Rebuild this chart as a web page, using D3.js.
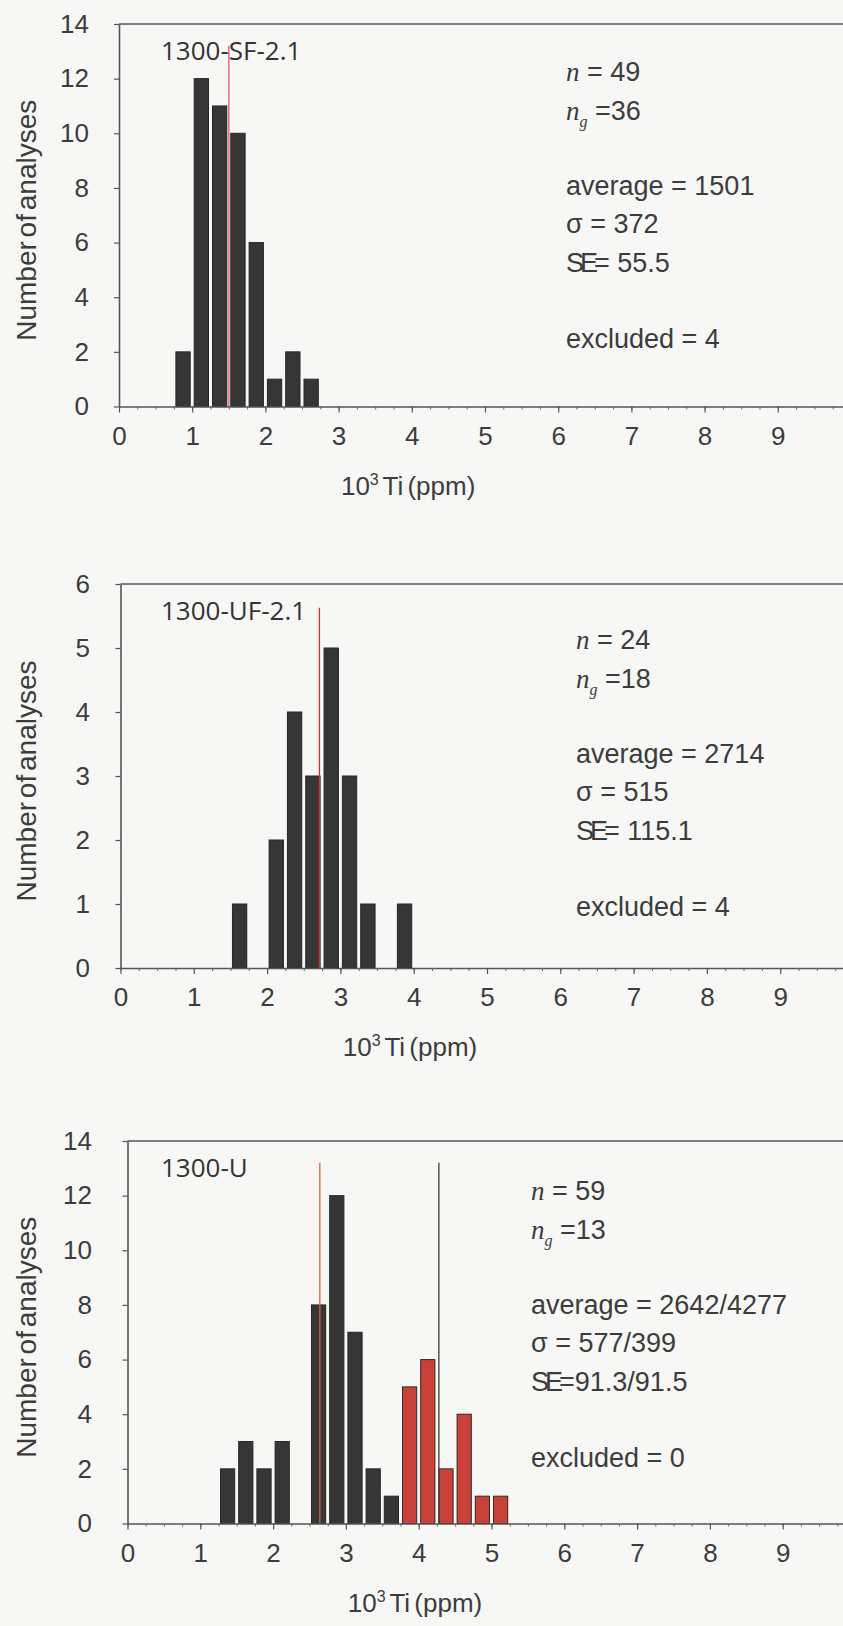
<!DOCTYPE html>
<html>
<head>
<meta charset="utf-8">
<script src="https://cdn.jsdelivr.net/npm/d3@7/dist/d3.min.js"></script>
<style>
  body { margin: 0; background: #f7f7f5; }
  svg { display: block; }
</style>
</head>
<body>
<svg id="chart" width="843" height="1626"></svg>
<script>
// histogram bins: left edge of each 0.25 bin (10^3 ppm) and count
const sf_bins = [0.75, 1.0, 1.25, 1.5, 1.75, 2.0, 2.25, 2.5]
const sf_counts = [2, 12, 11, 10, 6, 1, 2, 1]

const uf_bins = [1.5, 2.0, 2.25, 2.5, 2.75, 3.0, 3.25, 3.75]
const uf_counts = [1, 2, 4, 3, 5, 3, 1, 1]

const u_bins_low = [1.25, 1.5, 1.75, 2.0, 2.5, 2.75, 3.0, 3.25, 3.5]
const u_counts_low = [2, 3, 2, 3, 8, 12, 7, 2, 1]
const u_bins_high = [3.75, 4.0, 4.25, 4.5, 4.75, 5.0]
const u_counts_high = [5, 6, 2, 4, 1, 1]

const bin_width = 0.25
const x_ticks = [0, 1, 2, 3, 4, 5, 6, 7, 8, 9]
const x_minor = d3.range(0, 10.01, 0.25)

// averages in 10^3 ppm (the vertical lines)
const sf_avg = [1.501]
const uf_avg = [2.714]
const u_avg = [2.642, 4.277]

const sf_stats = ["49", "36", "1501", "372", "55.5", "4"]
const uf_stats = ["24", "18", "2714", "515", "115.1", "4"]
const u_stats = ["59", "13", "2642/4277", "577/399", "91.3/91.5", "0"]

const panels = [
  { name: "1300-SF-2.1", top: 24, bottom: 406.5, left: 119, unit: 73.2, ymax: 14, yticks: [0,2,4,6,8,10,12,14],
    pad: 25, lineTop: 13.2, textX: 566, textDy: 0,
    series: [{ bins: sf_bins, counts: sf_counts, fill: "#363636", stroke: "#262626" }],
    lines: [{ v: sf_avg[0], color: "#e0566c" }], stats: sf_stats, se: "SE= " },
  { name: "1300-UF-2.1", top: 584, bottom: 968, left: 120.5, unit: 73.3, ymax: 6, yticks: [0,1,2,3,4,5,6],
    pad: 25.5, lineTop: 5.63, textX: 576, textDy: 8,
    series: [{ bins: uf_bins, counts: uf_counts, fill: "#363636", stroke: "#262626" }],
    lines: [{ v: uf_avg[0], color: "#c8372e" }], stats: uf_stats, se: "SE= " },
  { name: "1300-U", top: 1141, bottom: 1523.5, left: 127.5, unit: 72.8, ymax: 14, yticks: [0,2,4,6,8,10,12,14],
    pad: 30.5, lineTop: 13.2, textX: 531, textDy: 2,
    series: [{ bins: u_bins_low, counts: u_counts_low, fill: "#363636", stroke: "#262626" },
             { bins: u_bins_high, counts: u_counts_high, fill: "#c9423a", stroke: "#3a2626" }],
    lines: [{ v: u_avg[0], color: "#d8643c" }, { v: u_avg[1], color: "#3a3a3a" }], stats: u_stats, se: "SE=" }
]

const svg = d3.select("#chart")
const ink = "#3c3c3c"
const sans = "'Liberation Sans', Arial, sans-serif"
const serif = "'Liberation Serif', 'DejaVu Serif', serif"

panels.forEach(p => {
  const g = svg.append("g")

  const x = d3.scaleLinear().domain([0, 10]).range([p.left, p.left + 10 * p.unit])
  const y = d3.scaleLinear().domain([0, p.ymax]).range([p.bottom, p.top])

  // top frame line
  g.append("line")
    .attr("x1", x(0)).attr("x2", 843)
    .attr("y1", y(p.ymax)).attr("y2", y(p.ymax))
    .attr("stroke", "#555").attr("stroke-width", 1.6)

  // bars
  p.series.forEach(s => {
    g.selectAll(null)
      .data(s.bins.map((b, i) => [b, s.counts[i]]))
      .enter().append("rect")
      .attr("x", d => x(d[0]) + 2)
      .attr("width", d => x(d[0] + bin_width) - x(d[0]) - 4)
      .attr("y", d => y(d[1]))
      .attr("height", d => y(0) - y(d[1]))
      .attr("fill", s.fill)
      .attr("stroke", s.stroke)
      .attr("stroke-width", 1)
  })

  // average lines
  g.selectAll(null)
    .data(p.lines)
    .enter().append("line")
    .attr("x1", d => x(d.v)).attr("x2", d => x(d.v))
    .attr("y1", y(0)).attr("y2", y(p.lineTop))
    .attr("stroke", d => d.color).attr("stroke-width", 1.3)

  // x axis: minor then major
  const xMinor = d3.axisBottom(x).tickValues(x_minor).tickSize(3).tickFormat("").tickSizeOuter(0)
  g.append("g")
    .attr("transform", `translate(0,${p.bottom})`)
    .call(xMinor)
    .call(a => a.select(".domain").attr("stroke", "#555").attr("stroke-width", 1.6))
    .call(a => a.selectAll(".tick line").attr("stroke", "#666"))

  const xAxis = d3.axisBottom(x).tickValues(x_ticks).tickSize(6).tickPadding(14).tickFormat(d3.format("d"))
  g.append("g")
    .attr("transform", `translate(0,${p.bottom})`)
    .call(xAxis)
    .call(a => a.select(".domain").remove())
    .call(a => a.selectAll(".tick line").attr("stroke", "#555").attr("stroke-width", 1.2))
    .call(a => a.selectAll("text").attr("font-family", sans)
      .attr("font-size", 26).attr("fill", ink))

  // y axis
  const yAxis = d3.axisLeft(y).tickValues(p.yticks).tickSize(5).tickPadding(p.pad)
    .tickSizeOuter(0).tickFormat(d3.format("d"))
  g.append("g")
    .attr("transform", `translate(${p.left},0)`)
    .call(yAxis)
    .call(a => a.select(".domain").attr("stroke", "#555").attr("stroke-width", 1.6))
    .call(a => a.selectAll(".tick line").attr("stroke", "#555").attr("stroke-width", 1.2))
    .call(a => a.selectAll("text").attr("font-family", sans)
      .attr("font-size", 26).attr("fill", ink))

  // axis titles
  g.append("text")
    .attr("transform", `translate(36,${(p.top + p.bottom) / 2 + 5}) rotate(-90)`)
    .attr("text-anchor", "middle")
    .attr("font-family", sans)
    .attr("font-size", 28).attr("word-spacing", -4).attr("fill", ink)
    .text("Number of analyses")

  const xl = g.append("text")
    .attr("x", x(3.95)).attr("y", p.bottom + 88)
    .attr("text-anchor", "middle")
    .attr("font-family", sans)
    .attr("font-size", 26).attr("fill", ink)
  xl.append("tspan").text("10")
  xl.append("tspan").attr("font-size", 16).attr("dy", -10).text("3")
  xl.append("tspan").attr("dy", 10).attr("word-spacing", -3).text(" Ti (ppm)")

  // sample name
  g.append("text")
    .attr("x", 161).attr("y", p.top + 36)
    .attr("font-family", "'Open Sans', 'Noto Sans', sans-serif")
    .attr("font-size", 26).attr("fill", "#333")
    .text(p.name)

  // statistics block
  const tx = p.textX, t0 = p.top + p.textDy
  const st = g.append("g").attr("font-family", sans).attr("font-size", 27).attr("fill", ink)

  const l1 = st.append("text").attr("x", tx).attr("y", t0 + 57)
  l1.append("tspan").attr("font-family", serif).attr("font-style", "italic").text("n")
  l1.append("tspan").text(" = " + p.stats[0])

  const l2 = st.append("text").attr("x", tx).attr("y", t0 + 96)
  l2.append("tspan").attr("font-family", serif).attr("font-style", "italic").text("n")
  l2.append("tspan").attr("font-family", serif).attr("font-style", "italic")
    .attr("font-size", 16).attr("dy", 7).text("g")
  l2.append("tspan").attr("dy", -7).text(" =" + p.stats[1])

  st.append("text").attr("x", tx).attr("y", t0 + 171).text("average = " + p.stats[2])
  st.append("text").attr("x", tx).attr("y", t0 + 209).text("σ = " + p.stats[3])
  const l5 = st.append("text").attr("x", tx).attr("y", t0 + 248)
  l5.append("tspan").attr("letter-spacing", -4).text("SE")
  l5.append("tspan").text(p.se.slice(2) + p.stats[4])
  st.append("text").attr("x", tx).attr("y", t0 + 324).text("excluded = " + p.stats[5])
})
</script>
</body>
</html>
